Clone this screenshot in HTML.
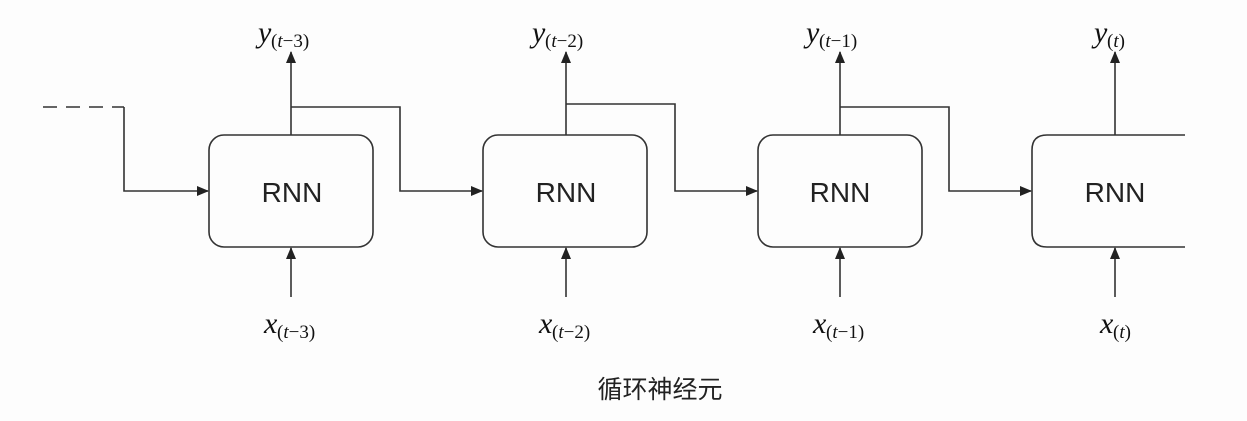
<!DOCTYPE html>
<html><head><meta charset="utf-8"><style>
body{margin:0;background:#fdfdfd;width:1247px;height:421px;overflow:hidden}
svg{display:block}
.l{font-family:"Liberation Serif",serif;font-style:italic;fill:#111}
.s{font-family:"Liberation Serif",serif;fill:#111}
</style></head><body>
<svg width="1247" height="421" viewBox="0 0 1247 421">
<defs><marker id="a" markerWidth="12" markerHeight="12" refX="11" refY="6" orient="auto" markerUnits="userSpaceOnUse"><path d="M0,1 L12,6 L0,11 z" fill="#222"/></marker></defs>
<g stroke="#333" stroke-width="1.6" fill="none">
<line x1="43" y1="107" x2="124" y2="107" stroke-dasharray="14,9"/>
<polyline points="124,107 124,191 208,191" marker-end="url(#a)"/>
<rect x="209" y="135" width="164" height="112" rx="15"/>
<rect x="483" y="135" width="164" height="112" rx="15"/>
<rect x="758" y="135" width="164" height="112" rx="15"/>
<path d="M1185,135 H1047 Q1032,135 1032,150 V232 Q1032,247 1047,247 H1185"/>
<line x1="291" y1="135" x2="291" y2="52" marker-end="url(#a)"/>
<line x1="566" y1="135" x2="566" y2="52" marker-end="url(#a)"/>
<line x1="840" y1="135" x2="840" y2="52" marker-end="url(#a)"/>
<line x1="1115" y1="135" x2="1115" y2="52" marker-end="url(#a)"/>
<polyline points="291,107 400,107 400,191 482,191" marker-end="url(#a)"/>
<polyline points="566,104 675,104 675,191 757,191" marker-end="url(#a)"/>
<polyline points="840,107 949,107 949,191 1031,191" marker-end="url(#a)"/>
<line x1="291" y1="297" x2="291" y2="248" marker-end="url(#a)"/>
<line x1="566" y1="297" x2="566" y2="248" marker-end="url(#a)"/>
<line x1="840" y1="297" x2="840" y2="248" marker-end="url(#a)"/>
<line x1="1115" y1="297" x2="1115" y2="248" marker-end="url(#a)"/>
</g>
<g font-family="'Liberation Sans',sans-serif" font-size="28" fill="#222" text-anchor="middle">
<text x="292" y="202">RNN</text><text x="566" y="202">RNN</text><text x="840" y="202">RNN</text><text x="1115" y="202">RNN</text>
</g>
<g font-size="30">
<text x="258" y="42" class="l">y</text><text x="271" y="47" class="s" font-size="19">(<tspan font-style="italic">t</tspan>−3)</text>
<text x="532" y="42" class="l">y</text><text x="545" y="47" class="s" font-size="19">(<tspan font-style="italic">t</tspan>−2)</text>
<text x="806" y="42" class="l">y</text><text x="819" y="47" class="s" font-size="19">(<tspan font-style="italic">t</tspan>−1)</text>
<text x="1094" y="42" class="l">y</text><text x="1107" y="47" class="s" font-size="19">(<tspan font-style="italic">t</tspan>)</text>
<text x="264" y="333" class="l">x</text><text x="277" y="338" class="s" font-size="19">(<tspan font-style="italic">t</tspan>−3)</text>
<text x="539" y="333" class="l">x</text><text x="552" y="338" class="s" font-size="19">(<tspan font-style="italic">t</tspan>−2)</text>
<text x="813" y="333" class="l">x</text><text x="826" y="338" class="s" font-size="19">(<tspan font-style="italic">t</tspan>−1)</text>
<text x="1100" y="333" class="l">x</text><text x="1113" y="338" class="s" font-size="19">(<tspan font-style="italic">t</tspan>)</text>
</g>
<text x="660" y="398" text-anchor="middle" font-family="'Liberation Sans','Noto Sans CJK SC',sans-serif" font-size="25" fill="#222">循环神经元</text>
</svg>
</body></html>
